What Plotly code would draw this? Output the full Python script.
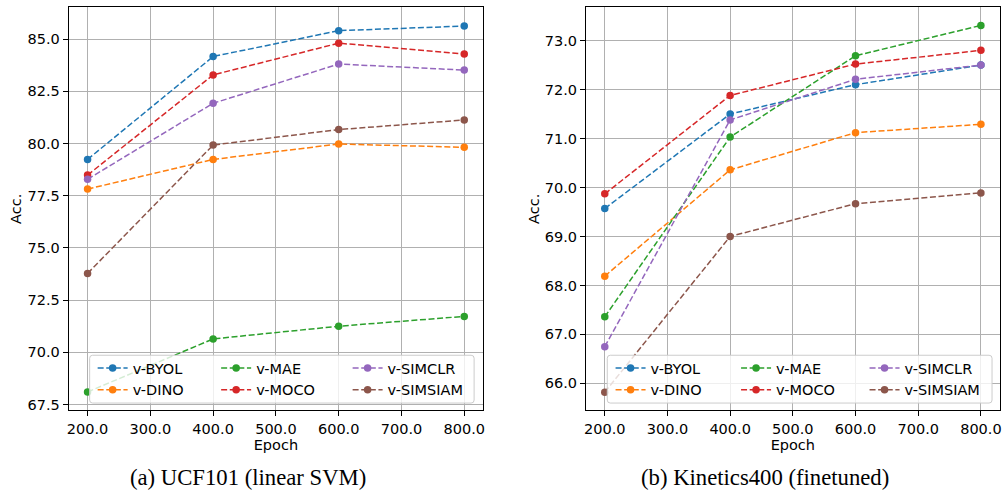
import plotly.graph_objects as go

epochs = [200, 400, 600, 800]
methods = ["v-BYOL", "v-DINO", "v-MAE", "v-MOCO", "v-SIMCLR", "v-SIMSIAM"]
colors = ["#1f77b4", "#ff7f0e", "#2ca02c", "#d62728", "#9467bd", "#8c564b"]

ucf_byol = [79.24, 84.17, 85.41, 85.63]
ucf_dino = [77.82, 79.24, 79.98, 79.82]
ucf_mae = [68.10, 70.64, 71.25, 71.72]
ucf_moco = [78.49, 83.29, 84.81, 84.29]
ucf_simclr = [78.29, 81.93, 83.81, 83.52]
ucf_simsiam = [73.78, 79.93, 80.67, 81.13]

k400_byol = [69.57, 71.50, 72.10, 72.50]
k400_dino = [68.19, 70.36, 71.12, 71.29]
k400_mae = [67.36, 71.03, 72.69, 73.31]
k400_moco = [69.87, 71.88, 72.52, 72.80]
k400_simclr = [66.75, 71.38, 72.21, 72.50]
k400_simsiam = [65.82, 69.00, 69.67, 69.89]

captions = ["(a) UCF101 (linear SVM)", "(b) Kinetics400 (finetuned)"]

ucf = [ucf_byol, ucf_dino, ucf_mae, ucf_moco, ucf_simclr, ucf_simsiam]
k400 = [k400_byol, k400_dino, k400_mae, k400_moco, k400_simclr, k400_simsiam]

W, H = 1003, 491
FONT = "DejaVu Sans"
FS = 14.5


def px(x):
    return x / W


def py(y):
    return 1 - y / H


fig = go.Figure()

legend_names_left = ["legend", "legend", "legend2", "legend2", "legend3", "legend3"]
legend_names_right = ["legend4", "legend4", "legend5", "legend5", "legend6", "legend6"]

for i, m in enumerate(methods):
    fig.add_trace(go.Scatter(
        x=epochs, y=ucf[i], name=m, mode="lines+markers",
        line=dict(color=colors[i], width=1.5, dash="6px,2.6px"),
        marker=dict(color=colors[i], size=7.5),
        xaxis="x", yaxis="y", legend=legend_names_left[i],
    ))
for i, m in enumerate(methods):
    fig.add_trace(go.Scatter(
        x=epochs, y=k400[i], name=m, mode="lines+markers",
        line=dict(color=colors[i], width=1.5, dash="6px,2.6px"),
        marker=dict(color=colors[i], size=7.5),
        xaxis="x2", yaxis="y2", legend=legend_names_right[i],
    ))

axis_common = dict(
    showline=True, linecolor="black", linewidth=1.1, mirror=True,
    showgrid=True, gridcolor="#b0b0b0", gridwidth=1.1,
    ticks="outside", ticklen=5, tickwidth=1.1, tickcolor="black",
    tickfont=dict(family=FONT, size=FS, color="black"),
    zeroline=False, tickformat=".1f",
)

ydom = [py(412), py(7.3)]
fig.update_layout(
    width=W, height=H, margin=dict(l=0, r=0, t=0, b=0),
    paper_bgcolor="white", plot_bgcolor="white",
    xaxis=dict(domain=[px(67), px(483)], range=[170, 830], dtick=100, tick0=0,
               title=dict(text="Epoch", font=dict(family=FONT, size=FS, color="black"), standoff=1),
               anchor="y", **axis_common),
    yaxis=dict(domain=ydom, range=[67.22, 86.53], dtick=2.5, tick0=0,
               title=dict(text="Acc.", font=dict(family=FONT, size=FS, color="black"), standoff=1.5),
               anchor="x", **axis_common),
    xaxis2=dict(domain=[px(586.3), px(1001.7)], range=[170, 830], dtick=100, tick0=0,
                title=dict(text="Epoch", font=dict(family=FONT, size=FS, color="black"), standoff=1),
                anchor="y2", **axis_common),
    yaxis2=dict(domain=ydom, range=[65.45, 73.68], dtick=1, tick0=0,
                title=dict(text="Acc.", font=dict(family=FONT, size=FS, color="black"), standoff=1.5),
                anchor="x2", **axis_common),
    showlegend=True,
)

leg_top = py(353.4)
leg_common = dict(bgcolor="rgba(0,0,0,0)", borderwidth=0, orientation="v",
                  xanchor="left", yanchor="top", y=leg_top,
                  font=dict(family=FONT, size=FS, color="black"), tracegroupgap=0)
leg_x = [91, 215, 347, 611, 737, 866]
leg_keys = ["legend", "legend2", "legend3", "legend4", "legend5", "legend6"]
fig.update_layout(**{k: dict(x=px(xv), **leg_common) for k, xv in zip(leg_keys, leg_x)})


def rounded(x0, y0, x1, y1, r=3):
    rx, ry = r / W, r / H
    X0, X1 = px(x0), px(x1)
    Y0, Y1 = py(y1), py(y0)  # bottom, top in paper
    return (f"M{X0+rx},{Y0} L{X1-rx},{Y0} Q{X1},{Y0} {X1},{Y0+ry} "
            f"L{X1},{Y1-ry} Q{X1},{Y1} {X1-rx},{Y1} L{X0+rx},{Y1} "
            f"Q{X0},{Y1} {X0},{Y1-ry} L{X0},{Y0+ry} Q{X0},{Y0} {X0+rx},{Y0} Z")


for box in [(88, 356.7, 474, 404.7), (607.7, 356.7, 994, 404.7)]:
    fig.add_shape(type="path", path=rounded(*box), xref="paper", yref="paper",
                  fillcolor="rgba(255,255,255,0.8)", line=dict(color="#cccccc", width=1),
                  layer="above")

for cx, cap in zip([247, 766], captions):
    fig.add_annotation(text=cap, x=px(cx), y=py(479), xref="paper", yref="paper",
                       showarrow=False, xanchor="center", yanchor="middle",
                       font=dict(family="Liberation Serif", size=22.7, color="black"))

fig.write_html("out.html")
